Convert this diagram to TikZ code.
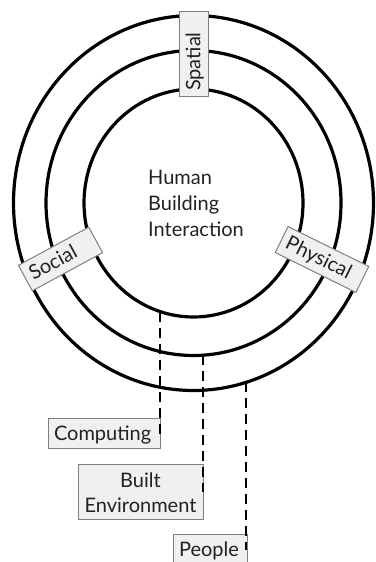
\documentclass[tikz,border=0pt]{standalone}
\usepackage{fontspec}
\setmainfont{Lato}
\definecolor{tagfill}{HTML}{F0F0F0}
\definecolor{tagline}{HTML}{7F7F7F}
\definecolor{ink}{HTML}{222222}
\begin{document}
\begin{tikzpicture}[
    x=1pt, y=1pt,
    ring/.style={draw=black, line width=3.2pt},
    link/.style={draw=black, line width=2.6pt, dash pattern=on 10pt off 6pt},
    tagbox/.style={draw=tagline, fill=tagfill, line width=1pt, text=ink, inner xsep=6pt, inner ysep=0pt, font=\fontsize{20}{25}\selectfont},
    tag/.style={tagbox, minimum height=29pt, text height=14.3pt, text depth=1.5pt, align=left}
]
\clip (0,0) rectangle (375,562);

\coordinate (hub) at (193.5,359);

\draw[ring] (hub) ellipse [x radius=180, y radius=187.5];
\draw[ring] (hub) ellipse [x radius=147.5, y radius=152.5];
\draw[ring] (hub) ellipse [x radius=109.5, y radius=114];

\path (hub) ++(252.2:109.5 and 114) coordinate (onInner);
\path (hub) ++(273.7:147.5 and 152.5) coordinate (onMiddle);
\path (hub) ++(286.96:180 and 187.5) coordinate (onOuter);

\node[tag, text width=73pt, rotate=90] (spatial) at (194,507.5) {Spatial};
\node[tag, text width=68pt, rotate=28.5] (social) at (60.5,303) {Social};
\node[tag, text width=78pt, rotate=-26.3] (physical) at (322,302.5) {Physical};

\node[inner sep=0pt, anchor=north west, align=left, text=ink, font=\fontsize{20}{25.8}\selectfont] (hbi) at (148,392) {Human\\Building\\Interaction};

\node[tag, text width=100pt, minimum height=30pt] (computing) at (104,128) {Computing};
\node[tagbox, text width=113pt, align=center, minimum height=55pt] (built) at (140.5,69.5) {Built\\Environment};
\node[tag, text width=62pt, minimum height=30pt] (people) at (210,12) {People};

\draw[link] (onInner) -- (onInner |- computing.east);
\draw[link] (onMiddle) -- (onMiddle |- built.east);
\draw[link] (onOuter) -- (onOuter |- people.east);
\end{tikzpicture}
\end{document}
